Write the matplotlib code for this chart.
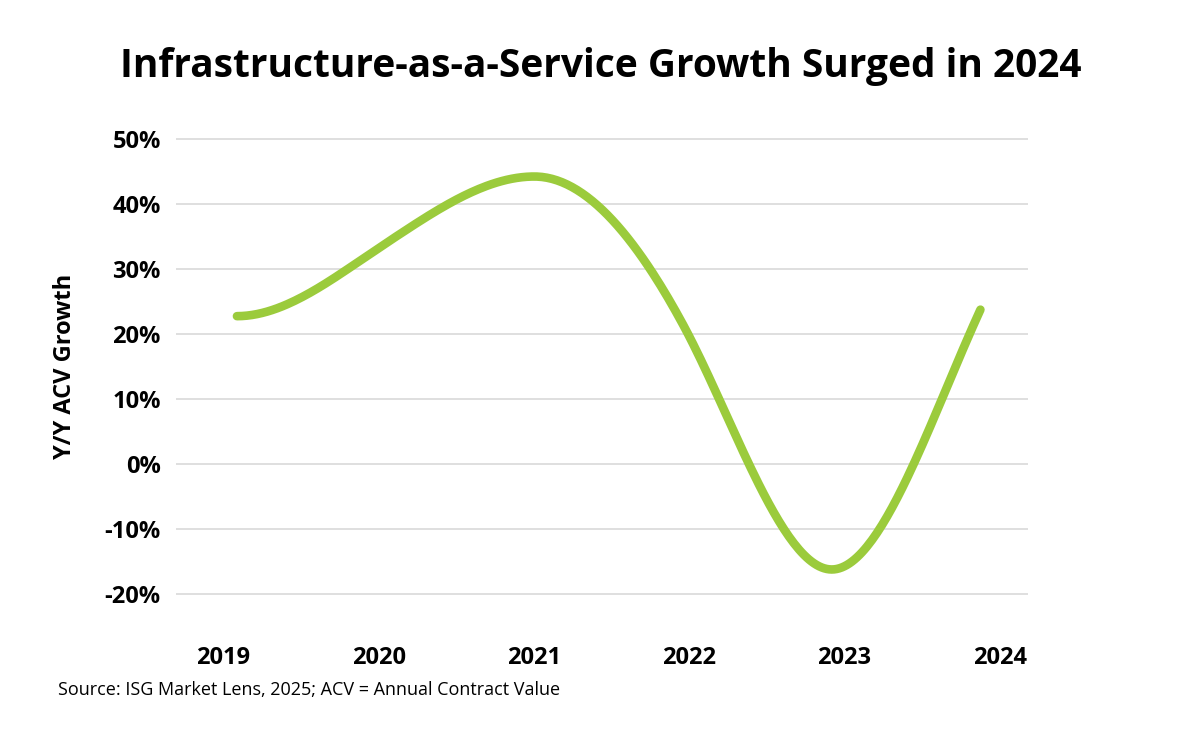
import numpy as np
import matplotlib
matplotlib.use("Agg")
import matplotlib.pyplot as plt

plt.rcParams['font.family'] = ['Open Sans', 'DejaVu Sans']

# data
years = ["2019", "2020", "2021", "2022", "2023", "2024"]
growth = [22.8, 34.0, 44.3, 21.5, -16.2, 23.8]
y_ticks = [-20, -10, 0, 10, 20, 30, 40, 50]

LINE_COLOR = "#9bcb3c"


def smooth_curve(xs, ys, steps=60):
    # Hermite curve through the points: flat at the start and at peaks/troughs
    xs = np.asarray(xs, float)
    ys = np.asarray(ys, float)
    n = len(xs)
    t = np.zeros(n)
    for i in range(1, n - 1):
        d0 = ys[i] - ys[i - 1]
        d1 = ys[i + 1] - ys[i]
        if d0 * d1 > 0:
            t[i] = 1.4 * (ys[i + 1] - ys[i - 1]) / (xs[i + 1] - xs[i - 1])
    t[-1] = 1.25 * (ys[-1] - ys[-2]) / (xs[-1] - xs[-2])
    out_x, out_y = [], []
    for i in range(n - 1):
        h = xs[i + 1] - xs[i]
        s = np.linspace(0, 1, steps)
        h00 = 2 * s**3 - 3 * s**2 + 1
        h10 = s**3 - 2 * s**2 + s
        h01 = -2 * s**3 + 3 * s**2
        h11 = s**3 - s**2
        out_x.append(xs[i] + s * h)
        out_y.append(h00 * ys[i] + h10 * h * t[i] + h01 * ys[i + 1] + h11 * h * t[i + 1])
    return np.concatenate(out_x), np.concatenate(out_y)


fig = plt.figure(figsize=(12.01, 7.5), dpi=100)
ax = fig.add_axes([176 / 1201, 1 - 600 / 750, (1028 - 176) / 1201, (600 - 133) / 750])

x = np.arange(len(years))
cx, cy = smooth_curve(x, growth)
ax.plot(cx, cy, color=LINE_COLOR, lw=6.2, solid_capstyle="round",
        solid_joinstyle="round", zorder=3)

ax.set_xlim(-0.41, 5.32)
ax.set_ylim(-20.9, 51)
ax.set_yticks(y_ticks)
ax.set_yticklabels([f"{v}%" for v in y_ticks], fontsize=17, fontweight="bold")
ax.yaxis.grid(True, color="#d9d9d9", lw=1.2)
ax.set_axisbelow(True)

# category labels sit a bit wider than the plotted points
ax.set_xticks(np.linspace(-0.09, 5.13, len(years)))
ax.set_xticklabels(years, fontsize=17, fontweight="bold")
ax.tick_params(axis="both", length=0)
ax.tick_params(axis="x", pad=33)
ax.tick_params(axis="y", pad=11)
for s in ax.spines.values():
    s.set_visible(False)

ax.set_ylabel("Y/Y ACV Growth", fontsize=17, fontweight="bold", labelpad=20)

fig.text(0.5, 1 - 66 / 750, "Infrastructure-as-a-Service Growth Surged in 2024",
         ha="center", va="center", fontsize=28, fontweight="bold")
fig.text(58 / 1201, 1 - 690 / 750, "Source: ISG Market Lens, 2025; ACV = Annual Contract Value",
         ha="left", va="center", fontsize=13)

fig.savefig("out.png", dpi=100, facecolor="white")
